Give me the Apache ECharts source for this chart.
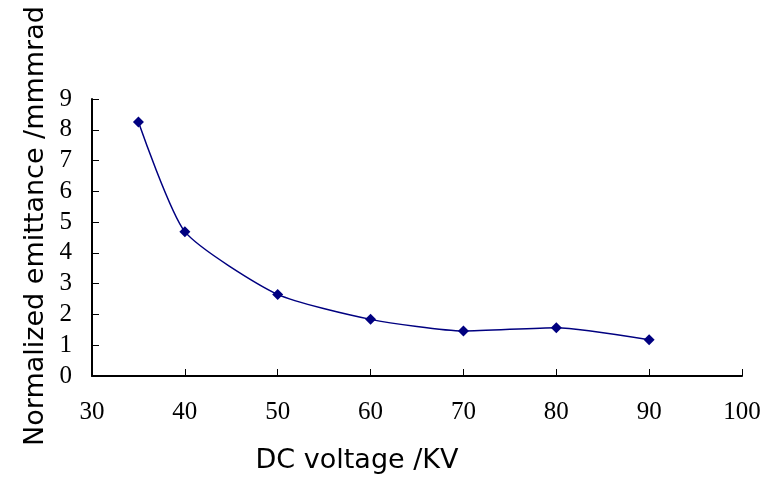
<!DOCTYPE html>
<html>
<head>
<meta charset="utf-8">
<script src="https://cdn.jsdelivr.net/npm/echarts@6/dist/echarts.min.js"></script>
<style>
  html, body { margin: 0; padding: 0; background: #fff; }
  #main { width: 773px; height: 478px; }
</style>
</head>
<body>
<div id="main"></div>
<script>
// DC voltage (kV) and normalized emittance
var voltage = [35, 40, 50, 60, 70, 80, 90];
var emittance = [8.25, 4.69, 2.65, 1.84, 1.46, 1.57, 1.18];

var chart = echarts.init(document.getElementById('main'));

var pts = [];
for (var i = 0; i < voltage.length; i++) {
    pts.push([voltage[i], emittance[i]]);
}

var titleFont = { fontFamily: 'DejaVu Sans', fontSize: 27, fill: '#000' };

var option = {
    backgroundColor: '#fff',
    animation: false,
    grid: {
        left: 92,
        right: 31,
        top: 99,
        bottom: 102
    },
    // axis titles are placed by hand, they are not centred on the plot
    graphic: [
        {
            type: 'text',
            x: 357, y: 461,
            style: Object.assign({ text: 'DC voltage /KV', align: 'center', verticalAlign: 'middle' }, titleFont)
        },
        {
            type: 'text',
            x: 36, y: 226,
            rotation: Math.PI / 2,
            style: Object.assign({ text: 'Normalized emittance /mmmrad', align: 'center', verticalAlign: 'middle' }, titleFont)
        }
    ],
    xAxis: {
        type: 'value',
        min: 30,
        max: 100,
        interval: 10,
        axisLine: { lineStyle: { color: '#000', width: 2 } },
        axisTick: { inside: true, length: 7, lineStyle: { color: '#000', width: 1 } },
        axisLabel: { fontFamily: 'Liberation Serif', fontSize: 25, color: '#000', margin: 24 },
        splitLine: { show: false }
    },
    yAxis: {
        type: 'value',
        min: 0,
        max: 9,
        interval: 1,
        axisLine: { show: true, lineStyle: { color: '#000', width: 2 } },
        axisTick: { show: true, inside: true, length: 7, lineStyle: { color: '#000', width: 1 } },
        axisLabel: { fontFamily: 'Liberation Serif', fontSize: 25, color: '#000', margin: 20 },
        splitLine: { show: false }
    },
    series: [{
        type: 'line',
        data: pts,
        smooth: 0.2,
        symbol: 'diamond',
        symbolSize: 11,
        itemStyle: { color: '#000080' },
        lineStyle: { color: '#000080', width: 1.5 }
    }]
};

chart.setOption(option);
</script>
</body>
</html>
